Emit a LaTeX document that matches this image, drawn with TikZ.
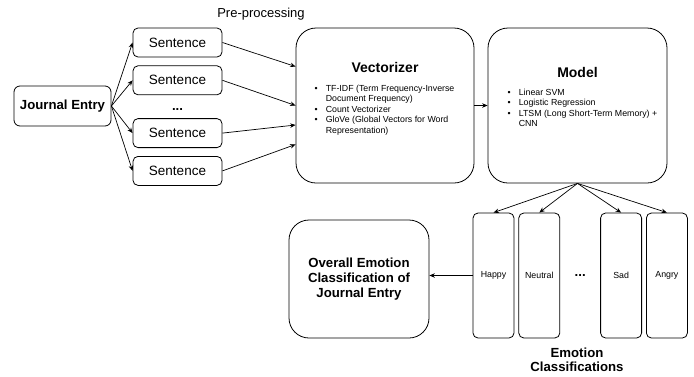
\documentclass[tikz,border=0pt]{standalone}
\usepackage{fontspec}
\setmainfont{Liberation Sans}
\usepackage{tikz}
\usetikzlibrary{positioning}
\usetikzlibrary{arrows.meta,calc}
\tikzstyle{sentbox} = [rectangle, rounded corners=5pt, draw, line width=0.8pt, minimum width=89pt, minimum height=29pt, font=\fontsize{13.5}{16}\selectfont]
\tikzstyle{bigbox} = [rectangle, rounded corners=20pt, draw, line width=0.8pt]
\tikzstyle{emobox} = [rectangle, rounded corners=5pt, draw, line width=0.8pt, minimum width=41pt, minimum height=125pt, font=\fontsize{8.8}{10.6}\selectfont]
\tikzstyle{boldtxt} = [font=\bfseries\fontsize{13.2}{15}\selectfont]
\tikzstyle{listtxt} = [anchor=north west, inner sep=0pt, font=\fontsize{8.8}{10.6}\selectfont]
\tikzstyle{arrow} = [line width=0.7pt, -{Stealth[length=5.5pt,width=4.5pt]}]

\begin{document}
\begin{tikzpicture}[x=1pt, y=-1pt]
		\useasboundingbox (0,0) rectangle (694,376);
		\node[rectangle,rounded corners=6pt,draw,line width=0.8pt,minimum width=97pt,minimum height=40pt,boldtxt] (journal) at (62.5,106) {Journal Entry};
		\node[font=\fontsize{13}{16}\selectfont] (prelabel) at (261,14) {Pre-processing};
		\node[sentbox] (s1) at (177.5,42.5) {Sentence};
		\node[sentbox,below=8pt of s1] (s2) {Sentence};
		\node[sentbox,below=23pt of s2] (s3) {Sentence};
		\node[sentbox,below=8pt of s3] (s4) {Sentence};
		\node[boldtxt,yshift=-3pt] (sdots) at ($(s2.south)!0.5!(s3.north)$) {...};
		\node[bigbox,minimum width=178pt,minimum height=155pt] (vec) at (385,105.5) {};
		\node[boldtxt,font=\bfseries\fontsize{14}{16}\selectfont] (vectitle) at (385,67) {Vectorizer};
		\node[listtxt] (veclist) at (314.5,83.5) {\begin{tabular}{@{}l@{\hspace{8pt}}l@{}}
			\textbullet & TF-IDF (Term Frequency-Inverse\\
			 & Document Frequency)\\
			\textbullet & Count Vectorizer\\
			\textbullet & GloVe (Global Vectors for Word\\
			 & Representation)
		\end{tabular}};
		\node[bigbox,minimum width=179pt,minimum height=155pt] (model) at (577.5,105.5) {};
		\node[boldtxt,font=\bfseries\fontsize{14}{16}\selectfont] (modeltitle) at (577.5,72) {Model};
		\node[listtxt] (modellist) at (507.5,87.5) {\begin{tabular}{@{}l@{\hspace{8pt}}l@{}}
			\textbullet & Linear SVM\\
			\textbullet & Logistic Regression\\
			\textbullet & LTSM (Long Short-Term Memory) +\\
			 & CNN
		\end{tabular}};
		\node[emobox] (happy) at (493.5,275.5) {Happy};
		\node[emobox,right=4pt of happy] (neutral) {Neutral};
		\node[emobox,right=40pt of neutral] (sad) {Sad};
		\node[emobox,right=4pt of sad] (angry) {Angry};
		\node[boldtxt] (edots) at ($(neutral.east)!0.5!(sad.west)$) {...};
		\node[align=center,boldtxt,font=\bfseries\fontsize{13.2}{14.5}\selectfont] (emolabel) at (577,360) {Emotion\\Classifications};
		\node[bigbox,minimum width=140pt,minimum height=118pt,align=center,boldtxt,font=\bfseries\fontsize{13.2}{14.8}\selectfont] (overall) at (359,279) {Overall Emotion\\Classification of\\Journal Entry};
		% connectors
		\foreach \s in {s1,s2,s3,s4}
			\draw[arrow] (journal.east) -- (\s.west);
		\draw[arrow] (s1.east) -- ($(vec.north west)!0.25!(vec.south west)$);
		\draw[arrow] (s2.east) -- ($(vec.north west)!0.5!(vec.south west)$);
		\draw[arrow] (s3.east) -- ($(vec.north west)!0.625!(vec.south west)$);
		\draw[arrow] (s4.east) -- ($(vec.north west)!0.75!(vec.south west)$);
		\draw[arrow] (vec) -- (model);
		\foreach \e in {happy,neutral,sad,angry}
			\draw[arrow] (model.south) -- (\e.north);
		\draw[arrow] (happy.west) -- (happy.west -| overall.east);
\end{tikzpicture}
\end{document}
